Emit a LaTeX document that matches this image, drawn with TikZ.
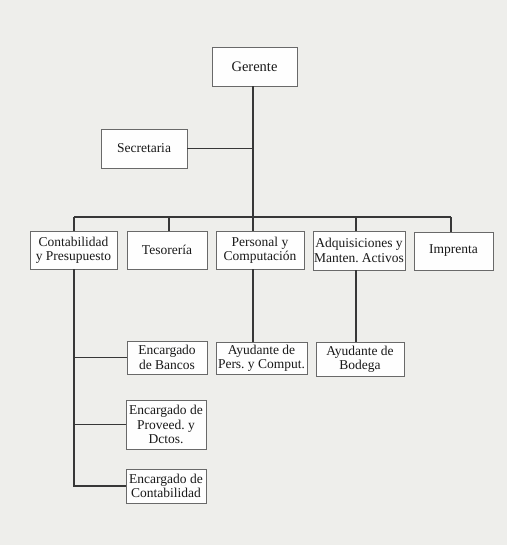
\documentclass[tikz,border=0pt]{standalone}
\usepackage{fontspec}
\setmainfont{Liberation Serif}
\definecolor{bg}{RGB}{238,238,235}
\definecolor{boxline}{RGB}{105,105,105}
\definecolor{conncol}{RGB}{55,55,55}
\definecolor{txt}{RGB}{25,25,25}
\begin{document}
\begin{tikzpicture}[x=1pt,y=-1pt,
  box/.style={draw=boxline, line width=0.9pt, fill=white!97!bg, inner sep=0pt,
    align=center, text=txt, font=\fontsize{13.5}{14.4}\selectfont},
  conn/.style={draw=conncol, line width=1.4pt}]
\fill[bg] (0,0) rectangle (507,545);
\useasboundingbox (0,0) rectangle (507,545);

\node[box, minimum width=85pt, minimum height=39pt] (ger) at (254.5,66.5) {\fontsize{14.5}{15}\selectfont Gerente};
\node[box, minimum width=86pt, minimum height=39pt] (sec) at (144,148.5) {Secretaria};

\node[box, minimum width=87pt, minimum height=38pt] (cont) at (73.5,250) {Contabilidad\\y Presupuesto};
\node[box, minimum width=80pt, minimum height=38pt] (tes) at (167,250) {Tesorería};
\node[box, minimum width=88pt, minimum height=38pt] (pers) at (260,250) {Personal y\\Computación};
\node[box, minimum width=92pt, minimum height=39pt] (adq) at (359,250.5) {Adquisiciones y\\Manten.\ Activos};
\node[box, minimum width=79pt, minimum height=38pt] (imp) at (453.5,251) {Imprenta};

\node[box, minimum width=80pt, minimum height=33pt] (banc) at (167,357.5) {Encargado\\de Bancos};
\node[box, minimum width=80pt, minimum height=49pt] (prov) at (166,424.5) {Encargado de\\Proveed.\ y\\Dctos.};
\node[box, minimum width=80pt, minimum height=34pt] (ecnt) at (166,486) {Encargado de\\Contabilidad};
\node[box, minimum width=91pt, minimum height=32pt] (ayp) at (261.5,358) {Ayudante de\\Pers.\ y Comput.};
\node[box, minimum width=88pt, minimum height=34pt] (ayb) at (360,359) {Ayudante de\\Bodega};

\coordinate (bus) at (0,217);
\coordinate (xa) at (74,0);
\coordinate (xb) at (169,0);
\coordinate (xc) at (253,0);
\coordinate (xd) at (356,0);
\coordinate (xe) at (451,0);

\draw[conn] (ger.south -| xc) -- (bus -| xc);
\draw[conn] (sec.east) -- (sec.east -| xc);
\draw[conn] (bus -| xa) -- (bus -| xe);
\draw[conn] (bus -| xa) -- (cont.north -| xa);
\draw[conn] (bus -| xb) -- (tes.north -| xb);
\draw[conn] (bus -| xc) -- (pers.north -| xc);
\draw[conn] (bus -| xd) -- (adq.north -| xd);
\draw[conn] (bus -| xe) -- (imp.north -| xe);
\draw[conn] (pers.south -| xc) -- (ayp.north -| xc);
\draw[conn] (adq.south -| xd) -- (ayb.north -| xd);
\draw[conn] (cont.south -| xa) -- (ecnt.west -| xa) -- (ecnt.west);
\draw[conn] (banc.west -| xa) -- (banc.west);
\draw[conn] (prov.west -| xa) -- (prov.west);
\end{tikzpicture}
\end{document}
